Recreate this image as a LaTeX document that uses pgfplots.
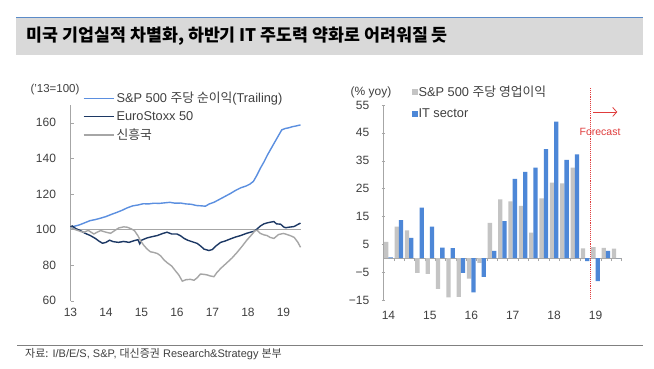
\documentclass[border=0pt]{standalone}
\usepackage{pgfplots}
\pgfplotsset{compat=1.18}
\usetikzlibrary{arrows.meta}
\usepackage{fontspec}
\setmainfont{Liberation Sans}
\newfontfamily\kr{Noto Sans CJK KR}
\definecolor{spblue}{HTML}{5B8FE0}
\definecolor{euronavy}{HTML}{1C3864}
\definecolor{emgray}{HTML}{A6A6A6}
\definecolor{bargray}{HTML}{C4C4C4}
\definecolor{barblue}{HTML}{4D87D7}
\definecolor{txt}{HTML}{404040}
\definecolor{titlebg}{HTML}{D9D9D9}
\definecolor{titleline}{HTML}{5B8BC8}
\definecolor{fcred}{HTML}{E03C3C}
\begin{document}
\begin{tikzpicture}[x=1pt,y=1pt]
\useasboundingbox (0pt,0pt) rectangle (654pt,368pt);
\fill[white] (0pt,0pt) rectangle (654pt,368pt);
\fill[titlebg] (16pt,313pt) rectangle (643pt,350.7pt);
\draw[titleline, line width=0.8pt] (16pt,350.7pt) -- (643pt,350.7pt);
\node[anchor=west, inner sep=0pt, font=\kr\bfseries\fontsize{17.3}{20}\selectfont] at (26.7pt,332pt) {미국 기업실적 차별화, 하반기 IT 주도력 약화로 어려워질 듯};
\draw[gray, line width=0.6pt] (17pt,23pt) -- (643pt,23pt);
\node[anchor=west, inner sep=0pt, font=\fontsize{11}{13}\selectfont, text=txt] at (25pt,14pt) {{\kr 자료:} I/B/E/S, S\&P, {\kr 대신증권} Research\&Strategy {\kr 본부}};
\node[font=\fontsize{11.5}{13}\selectfont, text=txt] at (55pt,278.7pt) {('13=100)};
\node[font=\fontsize{12}{14}\selectfont, text=txt] at (371pt,276pt) {(\% yoy)};

\begin{axis}[at={(70.5pt,67.3pt)}, anchor=south west, scale only axis,
  width=230.75pt, height=195.7pt,
  xmin=13, xmax=19.5, ymin=60, ymax=170,
  axis x line*=bottom, axis y line*=left,
  x axis line style={draw=none}, y axis line style={emgray, -},
  xtick={13,...,19}, ytick={60,80,...,160},
  xtick style={draw=none}, ytick style={emgray},
  tick align=inside, major tick length=3pt,
  tick label style={font=\fontsize{12}{14}\selectfont, text=txt},
  yticklabel style={xshift=-11pt},
  xticklabel style={yshift=-4pt},
  /pgf/number format/assume math mode=true,
  /pgf/number format/1000 sep={},
  clip=false,
  legend style={at={(rel axis cs:0.04,1.086)}, anchor=north west, draw=none, fill=none,
    font=\fontsize{12.8}{14}\selectfont, text=txt, row sep=3pt},
  legend cell align=left,
]
\addplot[emgray, line width=0.9pt, forget plot] coordinates {(13,100) (19.5,100)};
\addplot[spblue, line width=1.4pt, legend image code/.code={\draw[spblue, line width=1.6pt] (0pt,0pt) -- (30pt,0pt);}] coordinates {
(13.00,101.0) (13.10,101.8) (13.25,102.6) (13.40,103.8) (13.55,105.0) (13.70,105.6)
(13.85,106.4) (14.00,107.3) (14.15,108.5) (14.30,109.6) (14.45,110.8) (14.60,112.2)
(14.75,113.3) (14.90,113.8) (15.05,114.5) (15.20,114.4) (15.35,114.8) (15.50,114.7)
(15.65,115.0) (15.80,115.3) (15.95,114.8) (16.10,114.9) (16.25,114.4) (16.40,114.2)
(16.55,113.5) (16.70,113.3) (16.80,113.1) (16.90,114.3) (17.05,115.4) (17.20,117.0)
(17.35,118.6) (17.50,120.2) (17.65,122.0) (17.80,123.5) (17.95,124.5) (18.05,125.5)
(18.15,127.0) (18.25,130.5) (18.35,134.5) (18.45,138.0) (18.55,142.0) (18.65,145.5)
(18.75,149.0) (18.85,152.5) (18.95,156.0) (19.05,156.8) (19.15,157.2) (19.25,157.8)
(19.35,158.2) (19.48,158.8)};
\addlegendentry{S\&P 500 {\kr 주당 순이익}(Trailing)}
\addplot[euronavy, line width=1.4pt, legend image code/.code={\draw[euronavy, line width=1.6pt] (0pt,0pt) -- (30pt,0pt);}] coordinates {
(13.00,101.5) (13.05,102.0) (13.15,100.5) (13.28,99.4) (13.40,98.0) (13.56,96.6)
(13.70,95.0) (13.80,93.5) (13.90,92.3) (14.00,92.8) (14.10,94.0) (14.20,93.2)
(14.35,92.8) (14.50,93.3) (14.65,92.8) (14.80,93.8) (14.90,94.3) (14.95,92.0)
(15.00,94.0) (15.16,95.3) (15.30,96.0) (15.44,96.6) (15.60,97.8) (15.72,98.5)
(15.85,97.5) (16.00,97.5) (16.10,96.5) (16.20,95.0) (16.30,94.0) (16.45,93.0)
(16.57,92.2) (16.68,90.5) (16.76,89.0) (16.90,88.2) (17.00,88.8) (17.10,90.8)
(17.23,92.8) (17.35,93.5) (17.50,94.7) (17.65,95.8) (17.79,96.6) (17.95,97.8)
(18.07,98.5) (18.17,99.0) (18.26,100.4) (18.35,102.0) (18.45,103.2) (18.55,103.8)
(18.65,104.2) (18.73,104.5) (18.80,103.2) (18.92,103.0) (19.00,101.5) (19.06,101.0)
(19.15,101.3) (19.30,101.7) (19.40,102.8) (19.48,103.6)};
\addlegendentry{EuroStoxx 50}
\addplot[emgray, line width=1.4pt, legend image code/.code={\draw[emgray, line width=1.6pt] (0pt,0pt) -- (30pt,0pt);}] coordinates {
(13.00,101.3) (13.10,100.2) (13.20,99.5) (13.30,98.8) (13.38,98.5) (13.50,99.5)
(13.66,97.5) (13.75,98.5) (13.85,99.4) (14.00,98.5) (14.13,97.9) (14.25,99.5)
(14.36,100.9) (14.50,101.5) (14.60,101.3) (14.70,100.5) (14.80,99.4) (14.90,96.5)
(14.97,93.8) (15.07,91.0) (15.16,89.0) (15.25,87.5) (15.35,87.1) (15.45,86.5)
(15.54,85.2) (15.63,83.0) (15.72,81.4) (15.85,79.5) (15.96,76.7) (16.05,74.5)
(16.15,71.0) (16.25,71.8) (16.38,72.0) (16.48,71.5) (16.57,72.9) (16.66,75.0)
(16.76,74.8) (16.85,74.5) (16.94,73.9) (17.04,73.5) (17.13,76.0) (17.25,78.5)
(17.41,81.4) (17.55,84.0) (17.69,87.1) (17.83,90.5) (17.97,94.1) (18.10,97.0)
(18.20,99.4) (18.26,99.6) (18.34,97.9) (18.45,97.0) (18.54,96.6) (18.62,95.6)
(18.73,95.0) (18.86,97.2) (19.00,97.8) (19.10,97.2) (19.20,96.5) (19.30,95.6)
(19.40,93.0) (19.48,90.0)};
\addlegendentry{\kr 신흥국}
\end{axis}

\begin{axis}[at={(383.3pt,68pt)}, anchor=south west, scale only axis,
  width=238.1pt, height=195pt,
  xmin=-0.5, xmax=22.5, ymin=-15, ymax=55,
  axis x line=middle, axis y line=left,
  axis line style={-, emgray},
  ybar=0pt, bar width=4.3pt,
  xtick={0,4,8,12,16,20}, xticklabels={14,15,16,17,18,19},
  minor xtick={-0.5,0.5,...,22.5},
  major x tick style={draw=none},
  minor x tick style={emgray},
  ytick={-15,-5,5,15,25,35,45,55},
  yticklabels={−15,−5,5,15,25,35,45,55},
  ytick style={emgray},
  major tick length=3pt, minor tick length=3pt,
  tick label style={font=\fontsize{12}{14}\selectfont, text=txt},
  yticklabel style={xshift=-9pt},
  xticklabel style={yshift=-46pt},
  clip=false,
  legend style={at={(rel axis cs:0.105,1.12)}, anchor=north west, draw=none, fill=none,
    font=\fontsize{12.8}{14}\selectfont, text=txt, row sep=7pt, nodes={inner xsep=1pt}},
  legend cell align=left,
]
\addplot[fill=bargray, draw=none, legend image code/.code={\fill[bargray] (0pt,-3pt) rectangle (6pt,3pt);}] coordinates {
(0,5.9) (1,11.3) (2,10.0) (3,-5.3) (4,-5.6) (5,-11.0) (6,-14.1) (7,-13.9) (8,-7.3) (9,-1.7)
(10,12.7) (11,21.1) (12,20.4) (13,18.8) (14,9.2) (15,21.5) (16,27.1) (17,26.9) (18,32.5)
(19,3.5) (20,4.0) (21,3.7) (22,3.4)};
\addlegendentry{S\&P 500 {\kr 주당 영업이익}}
\addplot[fill=barblue, draw=none, legend image code/.code={\fill[barblue] (0pt,-3pt) rectangle (6pt,3pt);}] coordinates {
(0,0.3) (1,13.7) (2,7.3) (3,18.2) (4,11.3) (5,3.8) (6,3.6) (7,-5.3) (8,-12.3) (9,-6.7)
(10,2.6) (11,13.3) (12,28.5) (13,31.0) (14,32.5) (15,39.2) (16,49.0) (17,35.3) (18,37.3)
(19,-1.0) (20,-8.2) (21,2.6) (22,0)};
\addlegendentry{IT sector}
\draw[fcred, densely dotted, line width=1.1pt] (axis cs:19.5,61.1) -- (axis cs:19.5,-15);
\draw[fcred, line width=0.8pt, -{Straight Barb[length=4pt,width=9pt]}] (axis cs:19.76,52.5) -- (axis cs:22.1,52.5);
\node[text=fcred, font=\fontsize{10.5}{12}\selectfont] at (axis cs:20.44,45.3) {Forecast};
\end{axis}
\end{tikzpicture}
\end{document}
